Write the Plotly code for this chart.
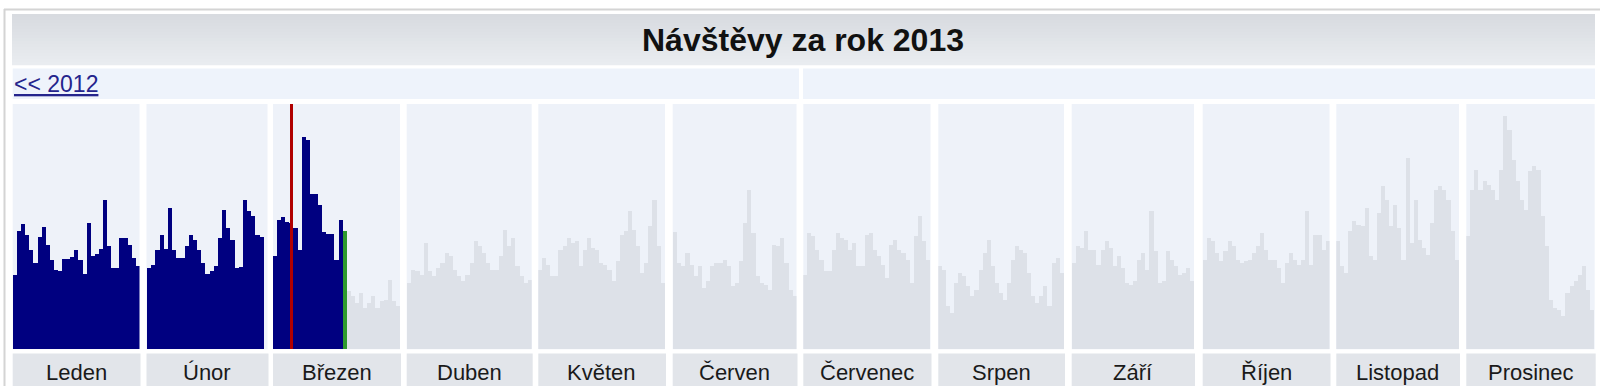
import plotly.graph_objects as go

# ---------------- data ----------------
months = ["Leden", "Únor", "Březen", "Duben", "Květen", "Červen",
          "Červenec", "Srpen", "Září", "Říjen", "Listopad", "Prosinec"]
days_in_month = [31, 28, 31, 30, 31, 30, 31, 31, 30, 31, 30, 31]

# daily visits 2013 (known days)
leden_2013 = [74, 118, 125, 114, 99, 86, 112, 122, 104, 89, 79, 78, 90, 90, 92, 99,
              89, 75, 126, 93, 95, 100, 149, 103, 81, 81, 111, 111, 104, 91, 83]
unor_2013 = [81, 84, 99, 114, 100, 141, 99, 91, 91, 103, 114, 109, 99, 86, 75, 78,
             83, 111, 139, 121, 109, 81, 82, 149, 138, 133, 114, 112]
brezen_2013 = [93, 129, 132, 127, 126, 121, 99, 212, 209, 155, 155, 144, 117, 115,
               115, 89, 129, 118]

# previous-year daily visits shown in grey for the rest of the year
brezen_prev = [58, 53, 46, 56, 41, 46, 53, 41, 48, 49, 69, 48, 43]   # days 19-31
duben_prev = [66, 79, 78, 74, 106, 78, 73, 81, 86, 96, 93, 79, 73, 68, 74, 86, 108,
              103, 96, 86, 79, 79, 93, 119, 103, 111, 83, 73, 66, 69]
kveten_prev = [79, 91, 84, 73, 73, 99, 103, 111, 106, 108, 83, 99, 111, 101, 99, 86,
               84, 79, 68, 88, 114, 118, 138, 119, 103, 76, 86, 123, 149, 103, 66]
cerven_prev = [117, 86, 83, 96, 84, 73, 83, 61, 68, 83, 86, 86, 89, 83, 63, 66, 88,
               126, 159, 116, 73, 66, 64, 59, 104, 103, 111, 86, 59, 53]
cervenec_prev = [74, 116, 113, 99, 89, 78, 78, 99, 116, 111, 109, 99, 106, 83, 83,
                 114, 116, 99, 93, 84, 71, 104, 109, 99, 96, 89, 66, 113, 133, 108, 89]
srpen_prev = [83, 79, 43, 36, 66, 76, 73, 63, 53, 59, 79, 96, 109, 83, 66, 56, 49, 66,
              89, 103, 99, 96, 76, 53, 46, 53, 63, 43, 86, 91, 76]
zari_prev = [86, 103, 101, 118, 99, 99, 84, 99, 108, 101, 83, 93, 81, 66, 64, 68, 89,
             96, 79, 138, 98, 66, 68, 98, 89, 83, 74, 76, 81, 68]
rijen_prev = [89, 111, 108, 96, 88, 98, 108, 103, 89, 86, 88, 89, 96, 103, 116, 99,
              89, 89, 81, 66, 86, 96, 89, 84, 89, 138, 84, 114, 114, 99, 108]
listopad_prev = [108, 83, 76, 118, 128, 124, 123, 141, 93, 89, 136, 163, 149, 123, 144,
                 121, 89, 191, 106, 149, 109, 101, 94, 126, 159, 163, 159, 149, 118, 89]
prosinec_prev = [113, 159, 179, 159, 168, 164, 159, 149, 179, 233, 219, 189, 168, 149,
                 139, 178, 183, 179, 133, 103, 49, 41, 39, 33, 56, 63, 68, 74, 83, 59, 39]

current_series = [leden_2013, unor_2013, brezen_2013] + [[] for _ in range(9)]
prev_series = [[], [], brezen_prev, duben_prev, kveten_prev, cerven_prev,
               cervenec_prev, srpen_prev, zari_prev, rijen_prev, listopad_prev,
               prosinec_prev]

today_month, today_day = 3, 18      # partial day (green)
marker_month, marker_day = 3, 5     # red marker
y_max = 245

# ---------------- styling / layout constants ----------------
W, H = 1600, 386
NAVY = "#000080"
GREY_BAR = "#dde1e8"
PANEL_BG = "#eef2f9"
LABEL_BG = "#e2e5ea"
ROW_BG = "#eef3fb"
FONT = "Liberation Sans, Arial, sans-serif"

panel_px = [(12.7, 139.5), (146.5, 267.5), (273, 400), (406.7, 531.7),
            (538.3, 665), (672.7, 796.5), (803.3, 930.5), (938.3, 1064),
            (1071.7, 1194), (1202.7, 1329.5), (1336.3, 1459), (1466.3, 1594.7)]
panel_top_px, panel_bot_px = 104, 349.3


def py(px):
    return (H - px) / H


fig = go.Figure()
layout_axes = {}

for i, name in enumerate(months):
    ax = "" if i == 0 else str(i + 1)
    ndays = days_in_month[i]
    slots = 29 if ndays == 28 else ndays
    cur = current_series[i]
    prev = prev_series[i]
    if cur:
        colors = []
        for d in range(1, len(cur) + 1):
            if i + 1 == today_month and d == today_day:
                colors.append("#2e9a2e")
            else:
                colors.append(NAVY)
        fig.add_trace(go.Bar(x=list(range(1, len(cur) + 1)), y=cur,
                             marker=dict(color=colors, line=dict(width=0)),
                             width=1, xaxis="x" + ax, yaxis="y" + ax,
                             showlegend=False, hoverinfo="x+y"))
    if prev:
        start = ndays - len(prev) + 1
        fig.add_trace(go.Bar(x=list(range(start, ndays + 1)), y=prev,
                             marker=dict(color=GREY_BAR, line=dict(width=0)),
                             width=1, xaxis="x" + ax, yaxis="y" + ax,
                             showlegend=False, hoverinfo="x+y"))
    if i + 1 == marker_month:
        fig.add_trace(go.Bar(x=[marker_day], y=[y_max],
                             marker=dict(color="#b00000", line=dict(width=0)),
                             width=0.8, xaxis="x" + ax, yaxis="y" + ax,
                             showlegend=False, hoverinfo="skip"))
    x0, x1 = panel_px[i]
    layout_axes["xaxis" + ax] = dict(domain=[x0 / W, x1 / W], range=[0.5, slots + 0.5],
                                     visible=False, fixedrange=True,
                                     anchor="y" + ax)
    layout_axes["yaxis" + ax] = dict(domain=[py(panel_bot_px), py(panel_top_px)],
                                     range=[0, y_max], visible=False, fixedrange=True,
                                     anchor="x" + ax)

shapes = []
# outer frame
shapes.append(dict(type="line", xref="paper", yref="paper", x0=4 / W, x1=1,
                   y0=py(9.5), y1=py(9.5), line=dict(color="#d4d4d4", width=2)))
shapes.append(dict(type="line", xref="paper", yref="paper", x0=4.5 / W, x1=4.5 / W,
                   y0=py(9), y1=0, line=dict(color="#d4d4d4", width=2)))
# title bar with vertical gradient
t0, t1 = 14, 65
nb = 17
c_top = (0xd8, 0xdb, 0xe0)
c_bot = (0xe9, 0xec, 0xf0)
for k in range(nb):
    f = k / (nb - 1)
    c = tuple(int(round(c_top[j] + (c_bot[j] - c_top[j]) * f)) for j in range(3))
    ya = t0 + (t1 - t0) * k / nb
    yb = t0 + (t1 - t0) * (k + 1) / nb
    shapes.append(dict(type="rect", xref="paper", yref="paper", x0=12 / W, x1=1595 / W,
                       y0=py(yb + 0.3), y1=py(ya), line=dict(width=0),
                       fillcolor="rgb(%d,%d,%d)" % c, layer="below"))
# navigation row
shapes.append(dict(type="rect", xref="paper", yref="paper", x0=12.7 / W, x1=799 / W,
                   y0=py(99), y1=py(68.5), line=dict(width=0), fillcolor=ROW_BG,
                   layer="below"))
shapes.append(dict(type="rect", xref="paper", yref="paper", x0=803 / W, x1=1595 / W,
                   y0=py(99), y1=py(68.5), line=dict(width=0), fillcolor=ROW_BG,
                   layer="below"))
# label cells
for (x0, x1) in panel_px:
    shapes.append(dict(type="rect", xref="paper", yref="paper", x0=x0 / W,
                       x1=(x1 + 1) / W, y0=0, y1=py(353.5), line=dict(width=0),
                       fillcolor=LABEL_BG, layer="below"))

annotations = [
    dict(text="<b>Návštěvy za rok 2013</b>", xref="paper", yref="paper",
         x=803 / W, y=py(40), xanchor="center", yanchor="middle", showarrow=False,
         font=dict(family=FONT, size=32, color="#111111")),
    dict(text="<u>&lt;&lt; 2012</u>", xref="paper", yref="paper",
         x=12 / W, y=py(84), xanchor="left", yanchor="middle", showarrow=False,
         font=dict(family=FONT, size=23, color="#24248c")),
]
for i, name in enumerate(months):
    x0, x1 = panel_px[i]
    annotations.append(dict(text=name, xref="paper", yref="paper",
                            x=(x0 + x1) / 2 / W, y=py(372), xanchor="center",
                            yanchor="middle", showarrow=False,
                            font=dict(family=FONT, size=22, color="#1a1a1a")))

fig.update_layout(width=W, height=H, margin=dict(l=0, r=0, t=0, b=0),
                  paper_bgcolor="white", plot_bgcolor=PANEL_BG,
                  barmode="overlay", bargap=0, showlegend=False,
                  shapes=shapes, annotations=annotations, **layout_axes)

fig.write_html("out.html", config={"displayModeBar": False})
